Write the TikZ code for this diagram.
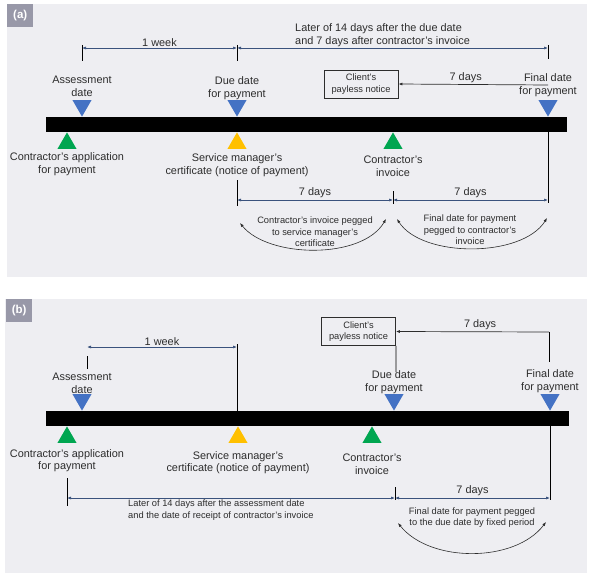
\documentclass[tikz,border=0pt]{standalone}
\usepackage{fontspec}
\setmainfont{Liberation Sans}
\usetikzlibrary{arrows.meta,shapes.geometric}
\definecolor{panelbg}{RGB}{238,238,242}
\definecolor{tabgray}{RGB}{152,152,168}
\definecolor{dimblue}{RGB}{58,82,125}
\definecolor{mkblue}{RGB}{68,114,196}
\definecolor{mkgreen}{RGB}{0,166,81}
\definecolor{mkyellow}{RGB}{255,192,0}
\definecolor{txtgray}{RGB}{45,45,45}
\tikzset{
  lbl/.style={align=center, text=txtgray, inner sep=0pt,
    font=\fontsize{10.9}{12.6}\selectfont},
  note/.style={align=center, text=txtgray, inner sep=0pt,
    font=\fontsize{9.3}{11.4}\selectfont},
  tab/.style={fill=tabgray, text=white, inner sep=0pt, anchor=north west,
    minimum width=26pt, minimum height=23pt, font=\bfseries\fontsize{11.5}{13}\selectfont},
  dnmark/.style={regular polygon, regular polygon sides=3, shape border rotate=180,
    minimum size=22pt, inner sep=0pt, anchor=corner 1, fill=#1},
  upmark/.style={regular polygon, regular polygon sides=3,
    minimum size=22pt, inner sep=0pt, anchor=corner 1, fill=#1},
  notebox/.style={note, draw=txtgray, line width=0.8pt, minimum width=74pt, minimum height=28pt},
  dim/.style={dimblue, line width=0.7pt, {Latex[length=4pt,width=3pt]}-{Latex[length=4pt,width=3pt]}},
  oneway/.style={txtgray, line width=0.7pt, -{Latex[length=4pt,width=3pt]}},
  peg/.style={txtgray, line width=0.6pt, {Latex[length=4pt,width=3pt]}-{Latex[length=4pt,width=3pt]}},
  tick/.style={black, line width=0.8pt}
}
\begin{document}
\begin{tikzpicture}[x=1pt,y=-1pt]
  \useasboundingbox (0,0) rectangle (594,578);
  % panels
  \fill[panelbg] (7,4) rectangle (587,277);
  \fill[panelbg] (5,299) rectangle (587,573);
  \node[tab] (tabA) at (7,4) {(a)};
  \node[tab] (tabB) at (6,299) {(b)};
  \fill[black] (46,117) rectangle (567,132);
  \fill[black] (46,411) rectangle (569,426);

  % ---- (a) ----
  \draw
    (82,117) node[dnmark=mkblue] (assessA){}
    (237,117) node[dnmark=mkblue] (dueA){}
    (548,117) node[dnmark=mkblue] (finalA){}
    (67,132) node[upmark=mkgreen] (applA){}
    (237,132) node[upmark=mkyellow] (certA){}
    (393,132) node[upmark=mkgreen] (invA){};
  \node[lbl] (assessAtxt) at (82,86.5) {Assessment\\date};
  \node[lbl] (dueAtxt) at (237,88) {Due date\\for payment};
  \node[lbl] (finalAtxt) at (548,85) {Final date\\for payment};
  \node[lbl] (applAtxt) at (67,164) {Contractor’s application\\for payment};
  \node[lbl] (certAtxt) at (237,165) {Service manager’s\\certificate (notice of payment)};
  \node[lbl] (invAtxt) at (393,166) {Contractor’s\\invoice};
  \node[notebox] (paylessA) at (361,84) {Client’s\\payless notice};
  \node[lbl, align=left, anchor=west] (laterA) at (295,35)
    {Later of 14 days after the due date\\and 7 days after contractor’s invoice};
  \node[note] (pegA1) at (315,232) {Contractor’s invoice pegged\\to service manager’s\\certificate};
  \node[note] (pegA2) at (470,230) {Final date for payment\\pegged to contractor’s\\invoice};
  \coordinate (wkA1) at (82,48);
  \coordinate (wkA2) at (237,48);
  \coordinate (wkA3) at (548,48);
  \coordinate (fpA) at (548,85);
  \coordinate (fpAbar) at (548,132);
  \coordinate (fpAlow) at (548,200);
  \coordinate (smA) at (237,200);
  \coordinate (ciA) at (393,200);
  \coordinate (pgA1) at (240,223);
  \coordinate (pgA2) at (386,219);
  \coordinate (pgA3) at (397,219);
  \coordinate (pgA4) at (547,218);
  \begin{scope}
    \draw[tick] (wkA1) ++(0,-3) -- ++(0,16);
    \draw[tick] (wkA2) ++(0,-3) -- ++(0,16);
    \draw[tick] (wkA3) ++(0,-3) -- ++(0,14);
    \draw[dim] (wkA1) -- node[lbl, above=1.5pt] {1 week} (wkA2);
    \draw[dim] (wkA2) -- (wkA3);
    \draw[oneway] (fpA) -- node[lbl, above=1.5pt, pos=0.55] {7 days} (paylessA.east);
    \draw[tick] (fpAbar) -- ([yshift=-3pt]fpAlow);
    \draw[tick] (smA) ++(0,-20) -- ++(0,26);
    \draw[tick] (ciA) ++(0,-9) -- ++(0,13);
    \draw[dim] (smA) -- node[lbl, above=1.5pt] {7 days} (ciA);
    \draw[dim] (ciA) -- node[lbl, above=1.5pt] {7 days} (fpAlow);
    \draw[peg] (pgA2) .. controls (362,260) and (268,258) .. (pgA1);
    \draw[peg] (pgA3) .. controls (422,258) and (522,258) .. (pgA4);
  \end{scope}

  % ---- (b) ----
  \draw
    (82,411) node[dnmark=mkblue] (assessB){}
    (394,411) node[dnmark=mkblue] (dueB){}
    (550,411) node[dnmark=mkblue] (finalB){}
    (67,426) node[upmark=mkgreen] (applB){}
    (238,426) node[upmark=mkyellow] (certB){}
    (372,426) node[upmark=mkgreen] (invB){};
  \node[lbl] (assessBtxt) at (82,383) {Assessment\\date};
  \node[lbl] (dueBtxt) at (394,382) {Due date\\for payment};
  \node[lbl] (finalBtxt) at (550,381) {Final date\\for payment};
  \node[lbl] (applBtxt) at (67,460.5) {Contractor’s application\\for payment};
  \node[lbl] (certBtxt) at (238,462.5) {Service manager’s\\certificate (notice of payment)};
  \node[lbl] (invBtxt) at (372,464.5) {Contractor’s\\invoice};
  \node[notebox] (paylessB) at (358.5,331.5) {Client’s\\payless notice};
  \node[note, align=left, anchor=west] (laterB) at (128,510)
    {Later of 14 days after the assessment date\\and the date of receipt of contractor’s invoice};
  \node[note] (pegB) at (472,517.5) {Final date for payment pegged\\to the due date by fixed period};
  \coordinate (wkB1) at (87,347);
  \coordinate (wkB2) at (237,347);
  \coordinate (wkB2bar) at (237,411);
  \coordinate (pnB) at (396,372);
  \coordinate (fpB) at (549,332);
  \coordinate (fpBbar) at (550,426);
  \coordinate (apB) at (67,498);
  \coordinate (ddB) at (395,498);
  \coordinate (fpBlow) at (550,498);
  \coordinate (pgB1) at (398,523);
  \coordinate (pgB2) at (546,522);
  \begin{scope}
    \draw[tick] (wkB1) ++(0,9) -- ++(0,13);
    \draw[tick] (wkB2) ++(0,-3) -- (wkB2bar);
    \draw[dim] (wkB1) -- node[lbl, above=1.5pt] {1 week} (wkB2);
    \draw[tick] (paylessB.south east) -- (pnB);
    \draw[tick] (fpB) -- ++(0,30);
    \draw[oneway] (fpB) -- node[lbl, above=1.5pt, pos=0.45] {7 days} (paylessB.east);
    \draw[tick] (fpBbar) -- ([yshift=-2pt]fpBlow);
    \draw[tick] (apB) ++(0,-20) -- ++(0,28);
    \draw[tick] (ddB) ++(0,-11) -- ++(0,13);
    \draw[dim] (apB) -- (ddB);
    \draw[dim] (ddB) -- node[lbl, above=1.5pt] {7 days} (fpBlow);
    \draw[peg] (pgB1) .. controls (430,563) and (515,563) .. (pgB2);
  \end{scope}
\end{tikzpicture}
\end{document}
